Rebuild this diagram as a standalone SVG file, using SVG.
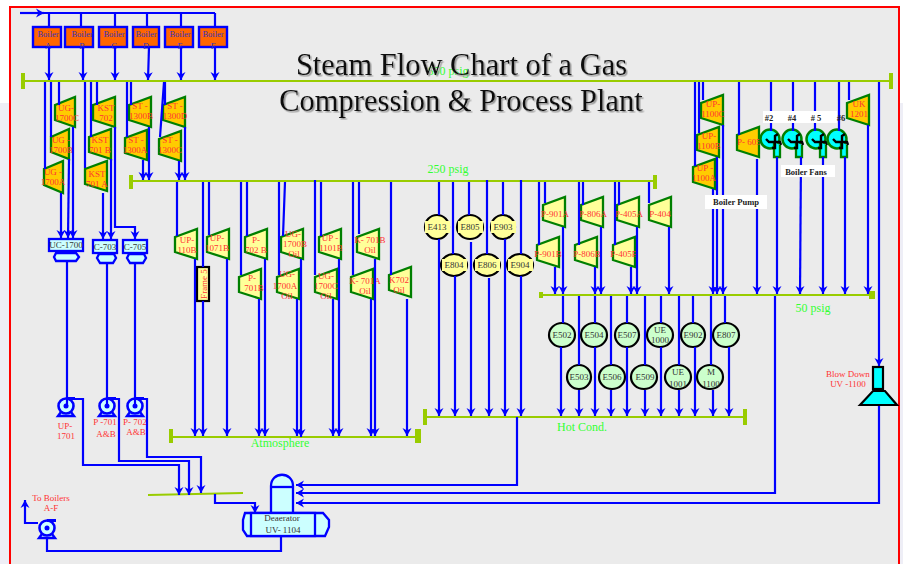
<svg xmlns="http://www.w3.org/2000/svg" xmlns:xlink="http://www.w3.org/1999/xlink" width="903" height="564" viewBox="0 0 903 564">
<style>
text{font-family:"Liberation Serif","Times New Roman",serif;text-anchor:middle}
.r{font-size:9px;fill:#ff3333}
.d{font-size:9px;fill:#333}
.bt{font-size:8.500px;fill:#3333bb}
.g{font-size:12px;fill:#33ff33}
.w{font-size:8.500px;font-weight:bold;fill:#222}
.title{font-size:30.500px;fill:#111;filter:url(#sh)}
.boiler{fill:#ff6600;stroke:#0000ff;stroke-width:2.400}
.to{fill:#ffcc00;stroke:#007f00;stroke-width:2.300}
.ty{fill:#ffff99;stroke:#007f00;stroke-width:2.300}
.cy{fill:#ffff99;stroke:#000;stroke-width:2.200}
.cg{fill:#ccffcc;stroke:#000;stroke-width:2.200}
.v{fill:#ccffff;stroke:#0000ff;stroke-width:2.300}
.hdr{stroke:#99cc00;stroke-width:2.200;fill:none}
.bar{fill:#99cc00}
.c path{fill:none;stroke:#0000ff;stroke-width:2.200}
.c .a{marker-end:url(#ar)}
.lb{fill:#fff}
</style>
<defs>
<filter id="sh" x="-5%" y="-20%" width="110%" height="140%"><feDropShadow dx="1.500" dy="1.500" stdDeviation="0.600" flood-color="#999"/></filter>
<marker id="ar" markerUnits="userSpaceOnUse" markerWidth="11" markerHeight="11" refX="8" refY="5.500" orient="auto" viewBox="0 0 11 11"><path d="M0,1 L8,5.500 L0,10 L2.500,5.500z" fill="#0000ff"/></marker>
<polygon id="t" points="0,8 22,0 22,30 0,23"/>
<g id="fan">
<circle cy="-1" r="9.500" fill="#00ffff" stroke="#007f00" stroke-width="2.500"/>
<path d="M4,2 V17 H10 V5" fill="#00ffff" stroke="#007f00" stroke-width="2.300"/>
<path d="M5,2 V-4 L8,-6 M5,2 H-1 L-4,-1 M5,2 V8 L2,8 M5,2 H10 L11,5" fill="none" stroke="#000" stroke-width="2.400"/>
</g>
<g id="pump">
<path d="M-5,6 L-8,10 H8 L5,6" fill="#ccffff" stroke="#0000ff" stroke-width="2.400"/>
<circle r="7.500" fill="#ccffff" stroke="#0000ff" stroke-width="2.600"/>
<circle r="2.500" fill="#0000ff"/>
<path d="M0,-7.500 H9" fill="none" stroke="#0000ff" stroke-width="3"/>
</g>
</defs>
<rect width="903" height="564" fill="#fff"/>
<rect x="0" y="103" width="10" height="461" fill="#eeeef6"/>
<rect x="899" y="103" width="4" height="461" fill="#eeeef6"/>
<rect x="10" y="7" width="889" height="600" fill="#ebebeb" stroke="#ff0000" stroke-width="2"/>

<g id="headers">
<path class="hdr" d="M23,81 H890"/><rect class="bar" x="21" y="73" width="4" height="16"/><rect class="bar" x="889" y="73" width="4" height="16"/>
<path class="hdr" d="M130,181 H656"/><rect class="bar" x="129" y="175" width="4" height="14"/><rect class="bar" x="653" y="175" width="4" height="14"/>
<path class="hdr" d="M170,437 H418"/><rect class="bar" x="169" y="429" width="4" height="14"/><rect class="bar" x="415" y="429" width="6" height="14"/>
<path class="hdr" d="M424,417 H746"/><rect class="bar" x="423" y="409" width="4" height="16"/><rect class="bar" x="743" y="409" width="4" height="16"/>
<path class="hdr" d="M540,295 H872"/><rect class="bar" x="539" y="292" width="4" height="6"/><rect class="bar" x="869" y="291" width="6" height="8"/>
<path class="hdr" d="M148,495 L243,493"/>
<text class="g" x="448" y="75">650 psig</text>
<text class="g" x="448" y="173">250 psig</text>
<text class="g" x="280" y="447">Atmosphere</text>
<text class="g" x="582" y="431">Hot Cond.</text>
<text class="g" x="813" y="312">50 psig</text>
</g>

<g id="boiler-a"><rect class="boiler" x="33" y="27" width="28" height="20"/><text class="bt" x="48" y="37">Boiler</text><text class="bt" x="48" y="49">A</text></g>
<g id="boiler-b"><rect class="boiler" x="65" y="27" width="28" height="20"/><text class="bt" x="82" y="37">Boiler</text><text class="bt" x="82" y="49">B</text></g>
<g id="boiler-c"><rect class="boiler" x="99" y="27" width="28" height="20"/><text class="bt" x="114" y="37">Boiler</text><text class="bt" x="114" y="49">C</text></g>
<g id="boiler-d"><rect class="boiler" x="133" y="27" width="26" height="20"/><text class="bt" x="146" y="37">Boiler</text><text class="bt" x="146" y="49">D</text></g>
<g id="boiler-e"><rect class="boiler" x="165" y="27" width="28" height="20"/><text class="bt" x="180" y="37">Boiler</text><text class="bt" x="180" y="49">E</text></g>
<g id="boiler-f"><rect class="boiler" x="199" y="27" width="28" height="20"/><text class="bt" x="213" y="37">Boiler</text><text class="bt" x="213" y="49">F</text></g>

<g id="ug-1700c"><polygon class="to" points="55,105 75,97 75,127 55,120"/><text class="r" x="66" y="111">UG-</text><text class="r" x="67" y="121">1700C</text></g>
<g id="ug-1700b"><polygon class="to" points="51,137 69,129 69,159 51,152"/><text class="r" x="61" y="143">UG -</text><text class="r" x="61" y="153">1700B</text></g>
<g id="ug-1700a"><polygon class="to" points="44,169 63,161 63,193 44,185"/><text class="r" x="53" y="175">UG -</text><text class="r" x="53" y="185">1700A</text></g>
<g id="kst-702"><use href="#t" class="to" x="93" y="97"/><text class="r" x="106" y="111">KST</text><text class="r" x="106" y="121">702</text></g>
<g id="kst-701b"><use href="#t" class="to" x="89" y="129"/><text class="r" x="100" y="143">KST</text><text class="r" x="100" y="153">701 B</text></g>
<g id="kst-701a"><use href="#t" class="to" x="85" y="161"/><text class="r" x="97" y="177">KST</text><text class="r" x="97" y="187">701 A</text></g>
<g id="st-1300b"><use href="#t" class="to" x="129" y="97"/><text class="r" x="140" y="109">ST -</text><text class="r" x="141" y="119">1300B</text></g>
<g id="st-1300a"><use href="#t" class="to" x="125" y="130"/><text class="r" x="136" y="143">ST -</text><text class="r" x="135" y="153">1300A</text></g>
<g id="st-1300d"><use href="#t" class="to" x="163" y="97"/><text class="r" x="175" y="109">ST -</text><text class="r" x="175" y="119">1300D</text></g>
<g id="st-1300c"><use href="#t" class="to" x="159" y="131"/><text class="r" x="170" y="143">ST -</text><text class="r" x="170" y="153">1300C</text></g>

<g id="up-110b"><use href="#t" class="ty" x="175" y="229"/><text class="r" x="187" y="243">UP-</text><text class="r" x="187" y="253">110B</text></g>
<g id="up-1071b"><use href="#t" class="ty" x="207" y="229"/><text class="r" x="217" y="241">UP-</text><text class="r" x="217" y="251">1071B</text></g>
<g id="p-702b"><use href="#t" class="ty" x="245" y="229"/><text class="r" x="256" y="243">P-</text><text class="r" x="256" y="253">702 B</text></g>
<g id="p-701b"><use href="#t" class="ty" x="239" y="269"/><text class="r" x="252" y="281">P-</text><text class="r" x="254" y="291">701B</text></g>
<g id="ug-1700b-oil"><use href="#t" class="ty" x="281" y="229"/><text class="r" x="293" y="237">UG-</text><text class="r" x="295" y="247">1700B</text><text class="r" x="294" y="257">Oil</text></g>
<g id="ug-1700a-oil"><use href="#t" class="ty" x="277" y="269"/><text class="r" x="287" y="277">UG-</text><text class="r" x="285" y="289">1700A</text><text class="r" x="287" y="299">Oil</text></g>
<g id="up-1101b"><use href="#t" class="ty" x="319" y="229"/><text class="r" x="330" y="241">UP -</text><text class="r" x="331" y="251">1101B</text></g>
<g id="ug-1700c-oil"><use href="#t" class="ty" x="315" y="269"/><text class="r" x="326" y="279">UG-</text><text class="r" x="326" y="289">1700C</text><text class="r" x="326" y="299">Oil</text></g>
<g id="k-701b-oil"><use href="#t" class="ty" x="357" y="229"/><text class="r" x="370" y="243">K- 701B</text><text class="r" x="370" y="253">Oil</text></g>
<g id="k-701a-oil"><use href="#t" class="ty" x="351" y="269"/><text class="r" x="365" y="284">K- 701A</text><text class="r" x="365" y="294">Oil</text></g>
<g id="k702-oil"><use href="#t" class="ty" x="389" y="267"/><text class="r" x="399" y="283">K702</text><text class="r" x="399" y="293">Oil</text></g>
<g id="frame-5"><rect x="197" y="267" width="12" height="34" fill="#ffff99" stroke="#000" stroke-width="2.200"/><text class="r" transform="translate(207,284) rotate(-90)">Frame 5</text></g>

<g id="p-901a"><use href="#t" class="ty" x="543" y="197"/><text class="r" x="555" y="217">P-901A</text></g>
<g id="p-806a"><use href="#t" class="ty" x="581" y="197"/><text class="r" x="593" y="217">P-806A</text></g>
<g id="p-405a"><use href="#t" class="ty" x="617" y="197"/><text class="r" x="629" y="217">P-405A</text></g>
<g id="p-404"><use href="#t" class="ty" x="649" y="197"/><text class="r" x="660" y="217">P-404</text></g>
<g id="p-901b"><use href="#t" class="ty" x="537" y="237"/><text class="r" x="548" y="257">P-901B</text></g>
<g id="p-806b"><use href="#t" class="ty" x="575" y="237"/><text class="r" x="587" y="257">P-806B</text></g>
<g id="p-405b"><use href="#t" class="ty" x="613" y="237"/><text class="r" x="624" y="257">P-405B</text></g>

<g id="e413"><ellipse class="cy" cx="437" cy="227" rx="12" ry="12"/><rect x="425" y="221" width="25" height="12" fill="#ffff99"/><text class="d" x="437" y="230">E413</text></g>
<g id="e805"><ellipse class="cy" cx="470" cy="227" rx="13" ry="12"/><rect x="458" y="221" width="25" height="12" fill="#ffff99"/><text class="d" x="470" y="230">E805</text></g>
<g id="e903"><ellipse class="cy" cx="503" cy="227" rx="12" ry="12"/><rect x="491" y="221" width="25" height="12" fill="#ffff99"/><text class="d" x="503" y="230">E903</text></g>
<g id="e804"><ellipse class="cy" cx="454" cy="265" rx="13" ry="11"/><rect x="442" y="259" width="25" height="12" fill="#ffff99"/><text class="d" x="454" y="268">E804</text></g>
<g id="e806"><ellipse class="cy" cx="487" cy="265" rx="13" ry="11"/><rect x="475" y="259" width="25" height="12" fill="#ffff99"/><text class="d" x="487" y="268">E806</text></g>
<g id="e904"><ellipse class="cy" cx="520" cy="265" rx="13" ry="11"/><rect x="508" y="259" width="25" height="12" fill="#ffff99"/><text class="d" x="520" y="268">E904</text></g>

<g id="e502"><ellipse class="cg" cx="562" cy="335" rx="13" ry="12"/><text class="d" x="562" y="338">E502</text></g>
<g id="e504"><ellipse class="cg" cx="594" cy="335" rx="13" ry="12"/><text class="d" x="594" y="338">E504</text></g>
<g id="e507"><ellipse class="cg" cx="627" cy="335" rx="12" ry="12"/><text class="d" x="627" y="338">E507</text></g>
<g id="ue-1000"><ellipse class="cg" cx="660" cy="335" rx="13" ry="12"/><text class="d" x="660" y="333">UE</text><text class="d" x="660" y="343">1000</text></g>
<g id="e902"><ellipse class="cg" cx="693" cy="335" rx="12" ry="12"/><text class="d" x="693" y="338">E902</text></g>
<g id="e807"><ellipse class="cg" cx="726" cy="335" rx="13" ry="12"/><text class="d" x="726" y="338">E807</text></g>
<g id="e503"><ellipse class="cg" cx="579" cy="377" rx="12" ry="12"/><text class="d" x="579" y="380">E503</text></g>
<g id="e506"><ellipse class="cg" cx="612" cy="377" rx="13" ry="12"/><text class="d" x="612" y="380">E506</text></g>
<g id="e509"><ellipse class="cg" cx="644" cy="377" rx="13" ry="12"/><text class="d" x="645" y="380">E509</text></g>
<g id="ue-1001"><ellipse class="cg" cx="678" cy="377" rx="13" ry="12"/><text class="d" x="678" y="375">UE</text><text class="d" x="678" y="387">1001</text></g>
<g id="m-1100"><ellipse class="cg" cx="710" cy="377" rx="13" ry="12"/><text class="d" x="711" y="375">M</text><text class="d" x="711" y="387">1100</text></g>

<g id="up-1100c"><use href="#t" class="to" x="701" y="95"/><text class="r" x="713" y="107">UP-</text><text class="r" x="713" y="117">1100C</text></g>
<g id="up-1100b"><use href="#t" class="to" x="697" y="127"/><text class="r" x="709" y="139">UP-</text><text class="r" x="709" y="149">1100B</text></g>
<g id="up-1100a"><use href="#t" class="to" x="693" y="159"/><text class="r" x="705" y="171">UP -</text><text class="r" x="704" y="181">1100A</text></g>
<g id="p-605"><use href="#t" class="to" x="737" y="127"/><text class="r" x="749" y="145">P- 605</text></g>
<g id="uk-1201"><use href="#t" class="to" x="847" y="95"/><text class="r" x="859" y="107">UK</text><text class="r" x="859" y="117">1201</text></g>

<g id="fan-2"><use href="#fan" x="770" y="140"/></g>
<g id="fan-4"><use href="#fan" x="792" y="140"/></g>
<g id="fan-5"><use href="#fan" x="816" y="140"/></g>
<g id="fan-6"><use href="#fan" x="837" y="140"/></g>

<g id="uc-1700"><path class="v" d="M56,253 H76 L79,257 L76,261 H56 L54,257z"/><rect class="v" x="49" y="239" width="34" height="12"/><text class="d" x="66" y="248">UC-1700</text></g>
<g id="c-703"><path class="v" d="M99,254 H114 L116,258 L113,263 H100 L97,258z"/><rect class="v" x="93" y="240" width="24" height="13"/><text class="d" x="105" y="250">C-703</text></g>
<g id="c-705"><path class="v" d="M129,254 H144 L146,258 L143,263 H130 L127,258z"/><rect class="v" x="123" y="240" width="24" height="13"/><text class="d" x="135" y="250">C-705</text></g>

<g id="up-1701"><use href="#pump" x="66" y="406"/><text class="r" x="65" y="429">UP-</text><text class="r" x="66" y="439">1701</text></g>
<g id="p-701"><use href="#pump" x="107" y="406"/><text class="r" x="105" y="425">P -701</text><text class="r" x="106" y="437">A&amp;B</text></g>
<g id="p-702"><use href="#pump" x="135" y="406"/><text class="r" x="135" y="425">P- 702</text><text class="r" x="136" y="435">A&amp;B</text></g>
<g id="boiler-feed-pump"><use href="#pump" x="47" y="528"/><text class="r" x="51" y="501">To Boilers</text><text class="r" x="51" y="511">A-F</text></g>

<g id="blow-down"><rect x="873" y="367" width="10" height="22" fill="#00ffff" stroke="#000" stroke-width="2.200"/><polygon points="860,405 873,391 885,391 897,405" fill="#00ffff" stroke="#000" stroke-width="2.200"/><text class="r" x="848" y="377">Blow  Down</text><text class="r" x="848" y="387">UV -1100</text></g>

<g id="deaerator">
<path class="v" d="M271,512 V486 C271,471 293,471 293,486 V512"/><path class="v" d="M271,487 H293"/>
<path class="v" d="M251,513 H245 L243,520 V530 L247,536 H325 L329,527 V520 L323,513z"/>
<rect class="v" x="251" y="513" width="64" height="23"/>
<text class="d" x="282" y="521">Deaerator</text><text class="d" x="283" y="533">UV- 1104</text>
</g>

<g id="connectors" class="c">
<path class="a" d="M20,13 H44"/><path d="M44,13 H215"/>
<path d="M49,13V27M81,13V27M115,13V27M147,13V27M181,13V27M215,13V27"/>
<path class="a" d="M49,47V80"/><path class="a" d="M83,47V80"/><path class="a" d="M115,47V80"/><path class="a" d="M149,47L148,80"/><path class="a" d="M181,47V80"/><path class="a" d="M215,47V80"/>
<path d="M45,82V169M51,82V137M59,82V105M85,82V168M91,82V137M97,82V105M127,82V137M131,82V105M164,82L160,137M165,82V105"/>
<path class="a" d="M73,127V238"/><path class="a" d="M69,159L68,238"/><path class="a" d="M61,193V238"/>
<path class="a" d="M103,193V239"/><path class="a" d="M111,159V239"/><path class="a" d="M115,127V227H135V239"/>
<path class="a" d="M143,160V180"/><path class="a" d="M149,127V180"/><path class="a" d="M179,161V180"/><path class="a" d="M185,127V180"/>
<path d="M67,261V406M107,263V406M135,263V406"/>
<path class="a" d="M75,399H83V465H179V495"/><path class="a" d="M116,399H119V461H189V495"/><path class="a" d="M144,399H147V457H201V493"/>
<path d="M177,182V236M203,182V267M209,182V235M241,182V275M247,182V236M279,182V275M285,182L283,236M315,180V275M321,182V236M353,182V275M359,182V234M391,182V275"/>
<path class="a" d="M195,259V436"/><path class="a" d="M203,301V436"/><path class="a" d="M227,259V436"/><path class="a" d="M259,299V436"/><path class="a" d="M265,259V436"/><path class="a" d="M297,299V436"/><path class="a" d="M301,259V437"/><path class="a" d="M333,299V436"/><path class="a" d="M339,259V436"/><path class="a" d="M371,299V436"/><path class="a" d="M375,259V436"/><path class="a" d="M407,299V436"/>
<path d="M439,182V215M453,182V254M469,182V215M487,180V254M503,182V215M521,180V254M539,182V245M545,182V203M579,182V245M583,182V205M615,182V245M619,182V205M649,182V203"/>
<path class="a" d="M439,239V416"/><path class="a" d="M455,276V416"/><path class="a" d="M471,242V416"/><path class="a" d="M489,278V416"/><path class="a" d="M505,239V416"/><path class="a" d="M521,276V416"/>
<path class="a" d="M555,267V294"/><path class="a" d="M563,227V294"/><path class="a" d="M595,267V294"/><path class="a" d="M601,227V294"/><path class="a" d="M631,267V294"/><path class="a" d="M637,227V294"/><path class="a" d="M669,227V294"/>
<path d="M563,296V323M579,296V365M595,296V323M611,296V365M627,296V323M645,296V365M661,296V323M679,296V365M693,296V323M711,296V365M725,296V323"/>
<path class="a" d="M561,347V416"/><path class="a" d="M579,390V416"/><path class="a" d="M595,347V416"/><path class="a" d="M611,390V416"/><path class="a" d="M627,347V416"/><path class="a" d="M645,390V416"/><path class="a" d="M661,347V416"/><path class="a" d="M679,390V416"/><path class="a" d="M695,347V416"/><path class="a" d="M713,390V416"/><path class="a" d="M729,347V416"/>
<path d="M695,82V166M699,82V133M703,82V100M739,82V135M771,82V131M793,82V131M815,82V131M839,82V131M849,82V100"/>
<path class="a" d="M713,189V294"/><path class="a" d="M717,157V294"/><path class="a" d="M723,125V294"/><path class="a" d="M757,159V294"/><path class="a" d="M777,157V294"/><path class="a" d="M801,157L800,294"/><path class="a" d="M823,157V294"/><path class="a" d="M845,157V294"/><path class="a" d="M868,125V294"/>
<path class="a" d="M879,82V366"/>
<path class="a" d="M517,417V485H296"/><path class="a" d="M775,296V493H296"/><path class="a" d="M879,406V503H296"/>
<path class="a" d="M215,494V503H255V513"/>
<path d="M281,536V551H47V538"/>
<path class="a" d="M38,523H25V500"/>
</g>

<g id="fan-labels">
<rect class="lb" x="763" y="111" width="74" height="12"/>
<text class="w" x="769" y="121">#2</text><text class="w" x="792" y="121">#4</text><text class="w" x="816" y="121"># 5</text><text class="w" x="841" y="121">#6</text>
</g>
<g id="boiler-fans-label"><rect class="lb" x="781" y="165" width="54" height="12"/><text class="w" x="806" y="175">Boiler Fans</text></g>
<g id="boiler-pump-label"><rect class="lb" x="705" y="195" width="62" height="14"/><text class="w" x="736" y="205">Boiler Pump</text></g>

<g id="title">
<text class="title" x="461.500" y="75">Steam Flow Chart of a Gas</text>
<text class="title" x="461" y="111">Compression &amp; Process Plant</text>
</g>
</svg>
